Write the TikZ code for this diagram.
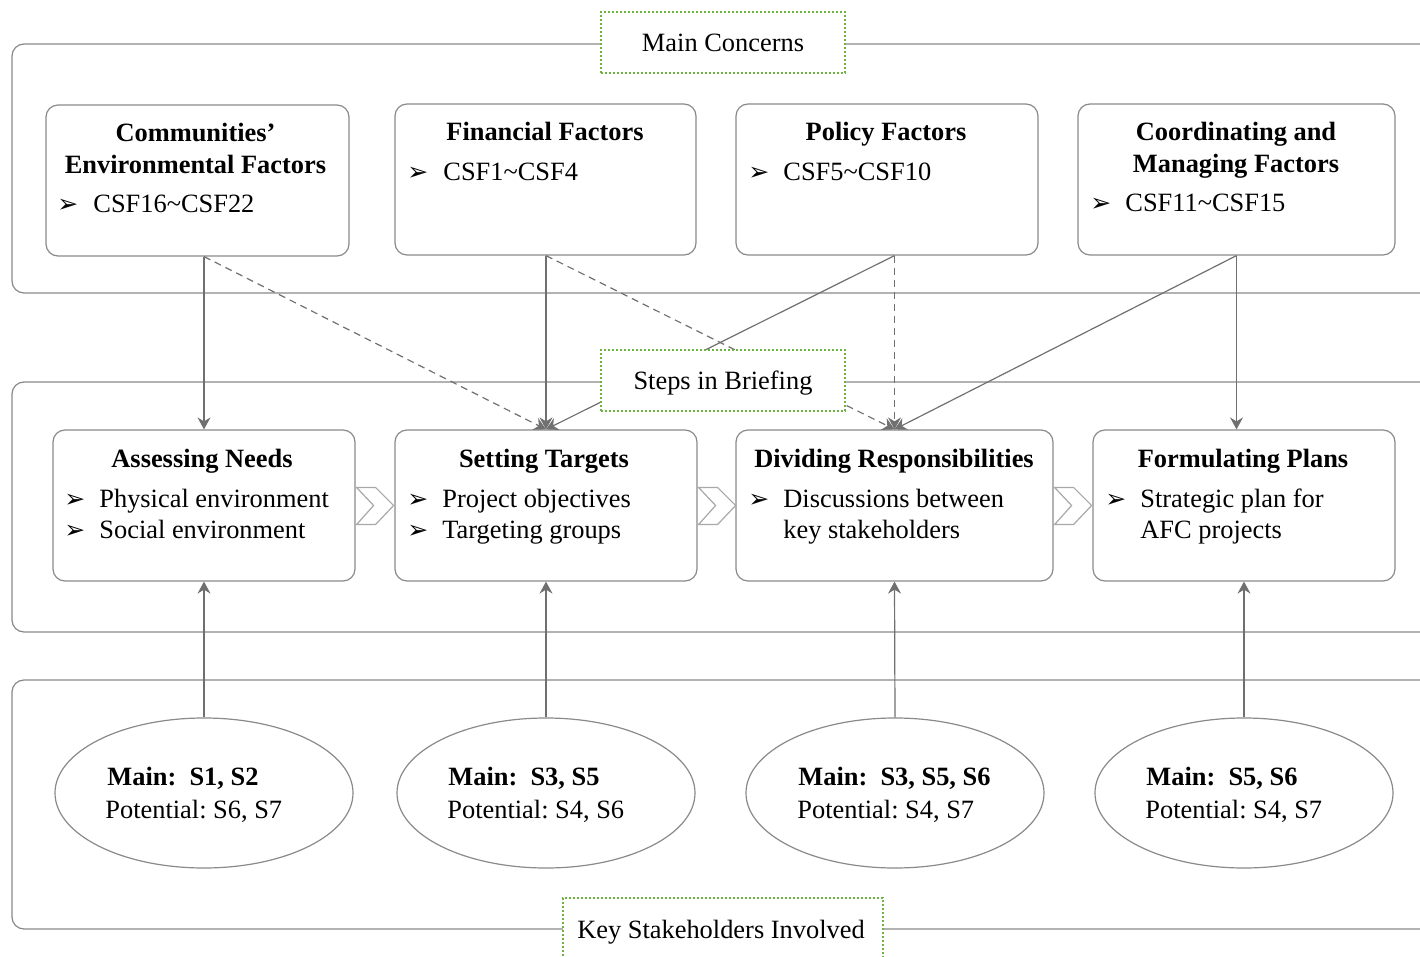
\documentclass[tikz,border=0pt]{standalone}
\usepackage{fontspec}
\setmainfont{Liberation Serif}
\newfontfamily\dingfont{DejaVu Sans}
\usetikzlibrary{shapes.geometric,arrows.meta}
\frenchspacing
\definecolor{framegray}{HTML}{888888}
\definecolor{cardgray}{HTML}{8A8A8A}
\definecolor{linkgray}{HTML}{707070}
\definecolor{chevgray}{HTML}{A8A8A8}
\definecolor{taggreen}{HTML}{6DB33F}
\begin{document}
\begin{tikzpicture}[x=0.5pt,y=-0.5pt,
  font=\fontsize{13.2}{16}\selectfont,
  panel/.style={draw=framegray, line width=0.6pt, rounded corners=6pt},
  card/.style={draw=cardgray, line width=0.6pt, rounded corners=6pt, fill=white,
    inner sep=0pt, minimum height=75.5pt},
  tag/.style={draw=taggreen, line width=0.9pt, dash pattern=on 0.9pt off 1.1pt,
    fill=white, inner sep=0pt},
  bubble/.style={ellipse, draw=cardgray, line width=0.6pt, fill=white, inner sep=0pt,
    minimum width=149pt, minimum height=75pt},
  title/.style={anchor=base, inner sep=0pt, font=\fontsize{13.2}{16}\selectfont\bfseries},
  item/.style={anchor=base west, inner sep=0pt},
  arrowmark/.style={anchor=base west, inner sep=0pt, font=\dingfont\fontsize{12.5}{13}\selectfont},
  link/.style={draw=linkgray, line width=0.6pt,
    -{Stealth[length=6pt,width=6.5pt,inset=2pt]}},
  dashlink/.style={link, dash pattern=on 3.5pt off 2.5pt},
  chev/.style={draw=chevgray, line width=0.6pt, fill=white, line join=miter}
]
\useasboundingbox (0,0) rectangle (1420,957);
\clip (0,0) rectangle (1420,957);

% three open panels running off the right edge
\draw[panel] (1440,44) -- (12,44) -- (12,293) -- (1440,293);
\draw[panel] (1440,382) -- (12,382) -- (12,632) -- (1440,632);
\draw[panel] (1440,680) -- (12,680) -- (12,929) -- (1440,929);

% main concerns
\node[card, minimum width=151.5pt] (A) at (197.5,180.5) {};
\node[card, minimum width=150.5pt] (B) at (545.5,179.5) {};
\node[card, minimum width=151pt]   (C) at (887,179.5) {};
\node[card, minimum width=158.5pt] (D) at (1236.5,179.5) {};

\node[title] (At1) at (195.5,142) {Communities’};
\node[title] (At2) at (195.5,174) {Environmental Factors};
\node[arrowmark] (Ab) at (57,213) {➢};
\node[item] (Ai) at (93,213) {CSF16\char`~CSF22};

\node[title] (Bt1) at (545,141) {Financial Factors};
\node[arrowmark] (Bb) at (407,181) {➢};
\node[item] (Bi) at (443,181) {CSF1\char`~CSF4};

\node[title] (Ct1) at (886,141) {Policy Factors};
\node[arrowmark] (Cb) at (748,181) {➢};
\node[item] (Ci) at (783,181) {CSF5\char`~CSF10};

\node[title] (Dt1) at (1236,141) {Coordinating and};
\node[title] (Dt2) at (1236,173) {Managing Factors};
\node[arrowmark] (Db) at (1090,212) {➢};
\node[item] (Di) at (1125,212) {CSF11\char`~CSF15};

% steps in briefing
\node[card, minimum width=151pt]   (E) at (204,505.5) {};
\node[card, minimum width=151pt]   (F) at (546,505.5) {};
\node[card, minimum width=158.5pt] (G) at (894.5,505.5) {};
\node[card, minimum width=151pt]   (H) at (1244,505.5) {};

\node[title] (Et) at (202,467) {Assessing Needs};
\node[arrowmark] (Eb1) at (64,507) {➢};
\node[item] (Ei1) at (99,507) {Physical environment};
\node[arrowmark] (Eb2) at (64,538) {➢};
\node[item] (Ei2) at (99,538) {Social environment};

\node[title] (Ft) at (544,467) {Setting Targets};
\node[arrowmark] (Fb1) at (407,507) {➢};
\node[item] (Fi1) at (442,507) {Project objectives};
\node[arrowmark] (Fb2) at (407,538) {➢};
\node[item] (Fi2) at (442,538) {Targeting groups};

\node[title] (Gt) at (894,467) {Dividing Responsibilities};
\node[arrowmark] (Gb1) at (748,507) {➢};
\node[item] (Gi1) at (783,507) {Discussions between};
\node[item] (Gi2) at (783,538) {key stakeholders};

\node[title] (Ht) at (1243,467) {Formulating Plans};
\node[arrowmark] (Hb1) at (1105,507) {➢};
\node[item] (Hi1) at (1140,507) {Strategic plan for};
\node[item] (Hi2) at (1140,538) {AFC projects};

% chevrons between the steps
\foreach \s in {E,F,G}{
  \draw[chev] (\s.east) ++(1,-18) -- ++(19,0) -- ++(18,18) -- ++(-18,19)
    -- ++(-19,0) -- ++(17,-19) -- cycle;
}

% key stakeholders
\node[bubble] (S1) at (204,793) {};
\node[bubble] (S2) at (546,793) {};
\node[bubble] (S3) at (895,793) {};
\node[bubble] (S4) at (1244,793) {};

\node[item, font=\fontsize{13.2}{16}\selectfont\bfseries] (S1m) at (107,785) {Main:~ S1, S2};
\node[item] (S1p) at (105,818) {Potential: S6, S7};
\node[item, font=\fontsize{13.2}{16}\selectfont\bfseries] (S2m) at (448,785) {Main:~ S3, S5};
\node[item] (S2p) at (447,818) {Potential: S4, S6};
\node[item, font=\fontsize{13.2}{16}\selectfont\bfseries] (S3m) at (798,785) {Main:~ S3, S5, S6};
\node[item] (S3p) at (797,818) {Potential: S4, S7};
\node[item, font=\fontsize{13.2}{16}\selectfont\bfseries] (S4m) at (1146,785) {Main:~ S5, S6};
\node[item] (S4p) at (1145,818) {Potential: S4, S7};

% factors feeding the steps
\draw[link] (A.south -| E.north) -- (E.north);
\draw[dashlink] (A.south -| E.north) -- (F.north);
\draw[link] (B.south -| F.north) -- (F.north);
\draw[dashlink] (B.south -| F.north) -- (G.north);
\draw[link] (C.south -| G.north) -- (F.north);
\draw[dashlink] (C.south -| G.north) -- (G.north);
\draw[link] (D.south) -- (G.north);
\draw[link] (D.south) -- (D.south |- H.north);

% stakeholders feeding the steps
\draw[link] (S1.north) -- (E.south);
\draw[link] (S2.north) -- (F.south);
\draw[link] (S3.north) -- (G.south);
\draw[link] (S4.north) -- (H.south);

% panel tags
\node[tag, minimum width=122pt, minimum height=30.5pt] (T1) at (723,42.5) {};
\node[anchor=base, inner sep=0pt] (T1t) at (723,52) {Main Concerns};
\node[tag, minimum width=122pt, minimum height=30.5pt] (T2) at (723,380.5) {};
\node[anchor=base, inner sep=0pt] (T2t) at (723,390) {Steps in Briefing};
\node[tag, minimum width=160pt, minimum height=32pt] (T3) at (723,930) {};
\node[anchor=base, inner sep=0pt] (T3t) at (721,938) {Key Stakeholders Involved};
\end{tikzpicture}
\end{document}
